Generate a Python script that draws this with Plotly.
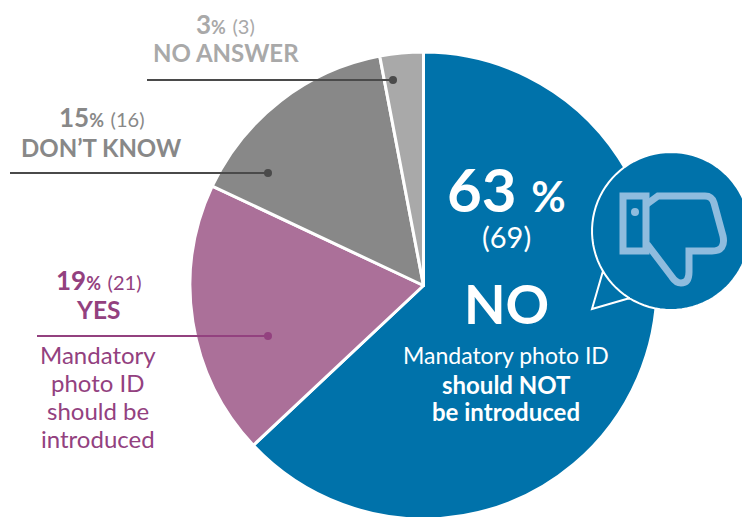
import numpy as np
import plotly.graph_objects as go

W, H = 742, 520  # page crops at 517; the pie's lowest edge runs just past it
categories = ["NO", "YES", "DON’T KNOW", "NO ANSWER"]
percent = [63, 19, 15, 3]
counts = [69, 21, 16, 3]
slice_colors = ["#0072AA", "#AB7099", "#888888", "#A9A9A9"]
FONT = "Lato"
PURPLE = "#93417F"
GREY = "#888888"
LIGHT = "#A9A9A9"
DARK = "#4A4A4A"
ICON = "#8FBCDE"


def fx(px):
    return px / W


def fy(py):
    return 1 - py / H


def path(cmds):
    out = []
    for c in cmds:
        if c == "Z":
            out.append("Z")
        else:
            out.append(c[0] + " ".join(f"{fx(c[i]):.5f},{fy(c[i + 1]):.5f}" for i in range(1, len(c), 2)))
    return " ".join(out)


fig = go.Figure(go.Pie(
    labels=categories, values=percent, sort=False, direction="clockwise", rotation=0,
    marker=dict(colors=slice_colors, line=dict(color="white", width=3)),
    textinfo="none", hoverinfo="label+percent", showlegend=False,
    domain=dict(x=[fx(190), fx(657)], y=[fy(519), fy(52)]),
))

shapes = []


def leader(x0, x1, y, color):
    shapes.append(dict(type="line", xref="paper", yref="paper", x0=fx(x0), x1=fx(x1), y0=fy(y), y1=fy(y),
                       line=dict(color=color, width=2)))
    r = 4
    shapes.append(dict(type="circle", xref="paper", yref="paper", x0=fx(x1 - r), x1=fx(x1 + r),
                       y0=fy(y + r), y1=fy(y - r), fillcolor=color, line=dict(width=0)))


leader(147, 393, 80, DARK)
leader(10, 268, 173, DARK)
leader(37, 268, 336, PURPLE)

# speech bubble
cx, cy, r = 671, 231, 79
ts = np.radians(np.arange(122, 510, 4))
bubble = [("M", 592, 309), ("L", 630, 298)]
bubble += [("L", cx + r * np.cos(t), cy + r * np.sin(t)) for t in ts]
bubble += [("L", 603, 271), "Z"]
shapes.append(dict(type="path", xref="paper", yref="paper", path=path(bubble),
                   fillcolor="#0072AA", line=dict(color="white", width=2)))

# thumb icon
shapes.append(dict(type="path", xref="paper", yref="paper",
                   path=path([("M", 623, 196), ("L", 646, 196), ("L", 646, 251), ("L", 623, 251), "Z"]),
                   line=dict(color=ICON, width=7), fillcolor="rgba(0,0,0,0)"))
shapes.append(dict(type="path", xref="paper", yref="paper",
                   path=path([("M", 647, 204), ("L", 658, 196), ("L", 705, 196),
                              ("Q", 712, 196, 714, 203), ("L", 723, 236),
                              ("Q", 726, 251, 712, 251), ("L", 689, 251), ("L", 689, 272),
                              ("Q", 689, 283, 681, 283), ("Q", 676, 283, 672, 277), ("L", 647, 244)]),
                   line=dict(color=ICON, width=7), fillcolor="rgba(0,0,0,0)"))
shapes.append(dict(type="circle", xref="paper", yref="paper", x0=fx(631), x1=fx(639), y0=fy(216), y1=fy(208),
                   fillcolor=ICON, line=dict(width=0)))


def note(x, y, text, size, color, bold=False):
    fig.add_annotation(xref="paper", yref="paper", x=fx(x), y=fy(y), xanchor="center", yanchor="middle",
                       showarrow=False, align="center", text=f"<b>{text}</b>" if bold else text,
                       font=dict(family=FONT, size=size, color=color))


def head(i, pc, small):
    return (f"<b>{percent[i]}<span style='font-size:{pc}px'>%</span></b> "
            f"<span style='font-size:{small}px'>({counts[i]})</span>")


note(506, 189, f"<b>{percent[0]} <span style='font-size:42px'>%</span></b>", 60, "white")
note(506, 237, f"({counts[0]})", 29, "white")
note(506, 303, categories[0], 54, "white", True)
note(506, 355, "Mandatory photo ID", 23, "white")
note(506, 384, "should NOT", 24, "white", True)
note(506, 411, "be introduced", 24, "white", True)

note(98, 280, head(1, 18, 20), 26, PURPLE)
note(98, 309, categories[1], 24.5, PURPLE, True)
for y, t in zip([354, 382, 410, 438], ["Mandatory", "photo ID", "should be", "introduced"]):
    note(98, y, t, 24, PURPLE)

note(101, 117, head(2, 18, 20), 26, GREY)
note(101, 147, categories[2], 24, GREY, True)
note(226, 24, head(3, 18, 20), 26, LIGHT)
note(226, 53, categories[3], 24, LIGHT, True)

fig.update_layout(width=W, height=H, margin=dict(l=0, r=0, t=0, b=0), paper_bgcolor="white",
                  plot_bgcolor="white", shapes=shapes, font=dict(family=FONT))
fig.write_html("out.html", config=dict(displayModeBar=False),
               post_script="document.body.style.margin='0';document.documentElement.style.overflow='hidden';")
